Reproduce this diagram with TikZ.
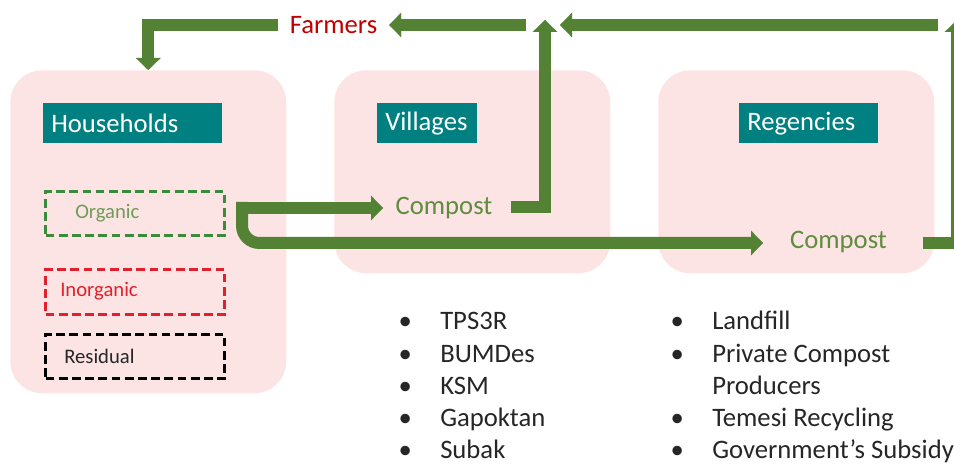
\documentclass[tikz,border=0pt]{standalone}
\usepackage{fontspec}
\setmainfont{Carlito}
\usetikzlibrary{arrows.meta}

\definecolor{flowgreen}{HTML}{548235}
\definecolor{tierpink}{HTML}{FDE4E4}
\definecolor{tierteal}{HTML}{008080}
\definecolor{farmred}{HTML}{C00000}
\definecolor{inorgred}{HTML}{E0202A}
\definecolor{orgdash}{HTML}{3C8A3C}
\definecolor{orgtext}{HTML}{6F9C58}
\definecolor{composttext}{HTML}{5F8C3E}
\definecolor{listtext}{HTML}{262626}

\newcommand\bigtext{\fontsize{20}{24.2}\selectfont}
\newcommand\smalltext{\fontsize{15.5}{18}\selectfont}
\newcommand\listrow[1]{\makebox[26.25pt][l]{\makebox[0pt]{\textbullet}}#1}
\newcommand\listcont[1]{\makebox[26.25pt][l]{}#1}

\tikzset{
  tier/.style={fill=tierpink, rounded corners=24pt, inner sep=0pt,
    minimum width=207pt, anchor=north west},
  tiername/.style={fill=tierteal, text=white, font=\bigtext, align=left,
    minimum height=30pt, inner xsep=6pt, inner ysep=0pt, anchor=north west},
  wastebox/.style={draw, dashed, line width=2.5pt, dash pattern=on 6.5pt off 3.4pt,
    minimum width=134.25pt, minimum height=33pt, inner sep=0pt, anchor=north west},
  wastetext/.style={font=\smalltext, inner sep=0pt, anchor=west},
  compost/.style={font=\bigtext, text=composttext, inner sep=0pt},
  flow/.style={draw=flowgreen, line width=9pt,
    -{Triangle[width=18.5pt,length=9pt,line width=0.01pt]}},
  itemlist/.style={font=\bigtext, text=listtext, align=left, inner sep=0pt,
    anchor=base west}
}

\begin{document}
\begin{tikzpicture}[x=0.75pt,y=-0.75pt]
\useasboundingbox (0,0) rectangle (954,466);
\clip (0,0) rectangle (954,466);

% three tiers
\node[tier, minimum height=242.25pt] (hh)  at (10,70)  {};
\node[tier, minimum height=152.25pt] (vil) at (334,70) {};
\node[tier, minimum height=152.25pt] (reg) at (658,70) {};

\node[tiername, text width=122.25pt] (hhname)  at (43,103)  {Households};
\node[tiername, text width=63pt]     (vilname) at (377,103) {Villages};
\node[tiername, text width=92.25pt]  (regname) at (739,103) {Regencies};

% household waste streams
\node[wastebox, draw=orgdash]   (org)   at (44,190) {};
\node[wastebox, draw=inorgred, minimum height=33.75pt] (inorg) at (44,268) {};
\node[wastebox, draw=black]     (res)   at (44,333) {};
\node[wastetext, text=orgtext]  (orgtxt)   at (75,213) {Organic};
\node[wastetext, text=inorgred] (inorgtxt) at (60,291) {Inorganic};
\node[wastetext, text=listtext] (restxt)   at (64,356) {Residual};

% compost outputs and farmers
\node[compost] (vcomp) at (444,208) {Compost};
\node[compost] (rcomp) at (838.5,242) {Compost};
\node[font=\bigtext, text=farmred, inner sep=0pt, outer xsep=9pt] (farmers) at (333.5,25) {Farmers};

% flow end points
\coordinate (orgout)  at (236,208);
\coordinate (vcin)    at (383,208);
\coordinate (orgdown) at (242,202);
\coordinate (rcin)    at (763,243);
\coordinate (vcout)   at (511,207.5);
\coordinate (vcup)    at (545,20);
\coordinate (rcout)   at (923,243);
\coordinate (rcup)    at (957,20);
\coordinate (topr)    at (938,25);
\coordinate (topl)    at (560,25);
\coordinate (topm)    at (526,25);

% flows
\draw[flow] (orgout) -- (vcin);
\draw[flow, rounded corners=13pt] (orgdown) |- (rcin);
\draw[flow] (vcout) -| (vcup);
\draw[flow] (rcout) -| (rcup);
\draw[flow] (topr) -- (topl);
\draw[flow] (topm) -- (farmers.east);
\draw[flow] (farmers.west) -| (hh.north);

% actors at each level (node base sits on the last line)
\node[itemlist] (villist) at (405,459) {%
  \listrow{TPS3R}\\ \listrow{BUMDes}\\ \listrow{KSM}\\ \listrow{Gapoktan}\\ \listrow{Subak}};
\node[itemlist] (reglist) at (677,459) {%
  \listrow{Landfill}\\ \listrow{Private Compost}\\ \listcont{Producers}\\
  \listrow{Temesi Recycling}\\ \listrow{Government’s Subsidy}};
\end{tikzpicture}
\end{document}
